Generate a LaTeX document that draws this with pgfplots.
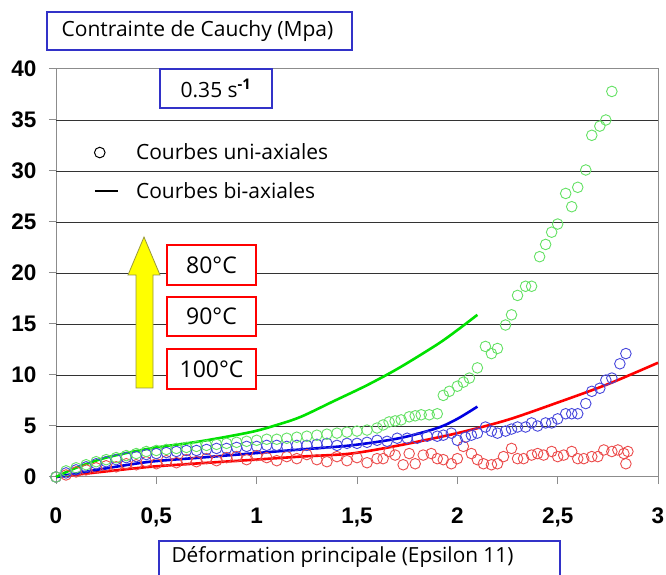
\documentclass[border=0pt]{standalone}
\usepackage{pgfplots}
\pgfplotsset{compat=1.18}
\usepackage{fontspec}
\setmainfont{Open Sans}
\newfontfamily\tickfont{Liberation Sans}
\definecolor{gline}{RGB}{0,225,0}
\definecolor{gcirc}{RGB}{100,225,100}
\definecolor{bline}{RGB}{0,0,225}
\definecolor{bcirc}{RGB}{70,70,220}
\definecolor{rline}{RGB}{255,0,0}
\definecolor{rcirc}{RGB}{235,75,75}
\definecolor{boxblue}{RGB}{50,50,200}
\definecolor{arrowyellow}{RGB}{255,255,0}
\definecolor{arrowedge}{RGB}{150,150,60}
\begin{document}
\begin{tikzpicture}[x=1pt,y=1pt]
\path[use as bounding box] (-56,-98) rectangle (610,477);
\begin{axis}[
  at={(0,0)}, anchor=south west,
  scale only axis, width=602pt, height=408pt,
  xmin=0, xmax=3, ymin=0, ymax=40,
  xtick={0,0.5,1,1.5,2,2.5,3},
  ytick={0,5,10,15,20,25,30,35,40},
  axis line style={draw=black!45, line width=1pt},
  tick style={black!45, line width=1pt},
  tick align=outside, xtick pos=bottom, ytick pos=left,
  major tick length=7pt,
  /pgf/number format/.cd, use comma, 1000 sep={}, assume math mode=true, /pgfplots/.cd,
  ticklabel style={font=\tickfont\bfseries\fontsize{22.5}{26}\selectfont},
  xticklabel style={yshift=-20pt},
  yticklabel style={xshift=-9pt},
  extra y ticks={5,10,15,20,25,30,35},
  extra y tick labels={},
  extra y tick style={grid=major, major grid style={black!80, line width=0.9pt}, major tick length=0pt},
  legend cell align=left,
  legend style={draw=none, fill=none, at={(0.062,0.822)}, anchor=north west,
    font=\fontsize{21}{25}\selectfont, row sep=17pt, inner sep=0pt,
    /tikz/every odd column/.append style={column sep=15pt}},
  clip=false,
]
\addlegendimage{black, line width=1pt, legend image code/.code={\draw[black, line width=1pt] (0pt,0pt) circle (5.3pt);}}
\addlegendentry{Courbes uni-axiales}
\addlegendimage{black, line width=2.5pt, legend image code/.code={\draw[black, line width=2.5pt] (-5pt,0pt) -- (18pt,0pt);}}
\addlegendentry{Courbes bi-axiales}

% 100 C uniaxial (red circles)
\addplot[only marks, mark=o, mark size=5.3pt, rcirc, line width=0.9pt] coordinates {
(0,0) (0.05,0.2) (0.1,0.5) (0.15,0.7) (0.2,0.9) (0.25,1.1) (0.3,1.0) (0.35,1.3) (0.4,1.2)
(0.45,1.5) (0.5,1.3) (0.55,1.6) (0.6,1.4) (0.65,1.7) (0.7,1.5) (0.75,1.8) (0.8,1.6)
(0.85,1.9) (0.9,2.0) (0.95,1.7) (1.0,2.1) (1.05,1.9) (1.1,1.6) (1.15,2.0) (1.2,1.8)
(1.25,2.2) (1.3,1.7) (1.35,1.5) (1.4,2.0) (1.45,1.6) (1.5,1.9) (1.55,1.4) (1.6,1.8)
(1.63,1.8) (1.66,2.5) (1.69,2.15) (1.73,1.2) (1.76,2.3) (1.79,1.3) (1.83,2.15) (1.87,2.3)
(1.90,1.8) (1.93,1.7) (1.97,1.3) (2.00,1.8) (2.03,3.0) (2.07,2.3) (2.10,1.7) (2.13,1.3)
(2.17,1.2) (2.20,1.3) (2.23,2.0) (2.27,2.8) (2.30,1.8) (2.33,1.8) (2.37,2.15) (2.40,2.3)
(2.43,2.15) (2.47,2.5) (2.50,2.0) (2.53,2.15) (2.57,2.5) (2.60,1.8) (2.63,1.8) (2.67,2.0)
(2.70,2.0) (2.73,2.65) (2.77,2.5) (2.80,2.65) (2.83,2.3) (2.85,2.5) (2.84,1.3)
};
% 90 C uniaxial (blue circles)
\addplot[only marks, mark=o, mark size=5.3pt, bcirc, line width=0.9pt] coordinates {
(0,0) (0.05,0.4) (0.1,0.7) (0.15,1.0) (0.2,1.3) (0.25,1.5) (0.3,1.7) (0.35,1.9) (0.4,2.0)
(0.45,2.2) (0.5,2.3) (0.55,2.4) (0.6,2.5) (0.65,2.6) (0.7,2.6) (0.75,2.7) (0.8,2.8)
(0.85,2.8) (0.9,2.9) (0.95,3.0) (1.0,3.0) (1.05,3.1) (1.1,3.1) (1.15,3.0) (1.2,3.1)
(1.25,3.1) (1.3,3.2) (1.35,3.3) (1.4,3.1) (1.45,3.3) (1.5,3.3) (1.55,3.4) (1.6,3.6)
(1.65,3.5) (1.7,3.8) (1.75,3.8) (1.8,3.8) (1.85,4.0) (1.9,4.0) (1.93,4.1) (1.97,4.3)
(2.00,3.6) (2.04,3.9) (2.07,4.1) (2.10,4.3) (2.14,4.9) (2.17,4.5) (2.20,4.3) (2.24,4.5)
(2.27,4.7) (2.30,4.9) (2.34,4.9) (2.37,5.3) (2.40,5.0) (2.44,5.3) (2.47,5.3) (2.50,5.7)
(2.54,6.2) (2.57,6.2) (2.60,6.2) (2.64,7.2) (2.67,8.4) (2.71,8.7) (2.74,9.5) (2.77,9.7)
(2.81,11.1) (2.84,12.1)
};
% 80 C uniaxial (green circles)
\addplot[only marks, mark=o, mark size=5.3pt, gcirc, line width=0.9pt] coordinates {
(0,0) (0.05,0.6) (0.1,0.9) (0.15,1.2) (0.2,1.5) (0.25,1.7) (0.3,1.9) (0.35,2.1) (0.4,2.3)
(0.45,2.5) (0.5,2.6) (0.55,2.7) (0.6,2.8) (0.65,2.9) (0.7,3.0) (0.75,3.1) (0.8,3.2)
(0.85,3.3) (0.9,3.4) (0.95,3.5) (1.0,3.6) (1.05,3.7) (1.1,3.7) (1.15,3.8) (1.2,3.9)
(1.25,4.0) (1.3,4.1) (1.35,4.2) (1.4,4.3) (1.45,4.4) (1.5,4.5) (1.55,4.6) (1.6,4.8)
(1.63,5.1) (1.66,5.4) (1.69,5.5) (1.72,5.6) (1.76,5.9) (1.79,6.0) (1.82,6.1) (1.86,6.1)
(1.90,6.2) (1.93,8.0) (1.96,8.4) (2.00,8.9) (2.03,9.3) (2.06,9.7) (2.10,10.7) (2.14,12.8)
(2.17,12.1) (2.20,12.6) (2.24,14.9) (2.27,15.9) (2.30,17.8) (2.34,18.7) (2.37,18.7)
(2.41,21.6) (2.44,22.8) (2.47,24.0) (2.50,24.8) (2.54,27.8) (2.57,26.5) (2.60,28.4)
(2.64,30.1) (2.67,33.5) (2.71,34.4) (2.74,35.0) (2.77,37.8)
};
% biaxial lines
\addplot[rline, line width=2.6pt, smooth] coordinates {
(0,0) (0.25,0.55) (0.47,1.0) (0.72,1.35) (0.97,1.67) (1.22,2.0) (1.47,2.3) (1.71,3.1)
(2.0,4.3) (2.25,5.6) (2.5,7.3) (2.75,9.1) (3.0,11.2)
};
\addplot[bline, line width=2.6pt, smooth] coordinates {
(0,0) (0.25,0.85) (0.47,1.5) (0.72,1.9) (0.97,2.3) (1.22,2.7) (1.47,3.1) (1.71,3.8)
(1.9,4.8) (2.0,5.7) (2.1,6.9)
};
\addplot[gline, line width=2.6pt, smooth] coordinates {
(0,0) (0.1,0.9) (0.25,1.9) (0.47,2.8) (0.72,3.5) (0.97,4.4) (1.10,5.1) (1.22,5.9)
(1.38,7.4) (1.55,9.0) (1.71,10.7) (1.9,13.0) (2.0,14.4) (2.1,15.9)
};
\end{axis}
% title box
\draw[boxblue, line width=1.8pt, fill=white] (-9,427) rectangle (296,465);
\node[font=\fontsize{21}{25}\selectfont] at (141.5,446) {Contrainte de Cauchy (Mpa)};
% rate box
\draw[boxblue, line width=2.2pt, fill=white] (104,369) rectangle (216,408);
\node[font=\fontsize{21}{25}\selectfont] at (160,388.5) {0.35 s\textsuperscript{\textbf{-1}}};
% yellow arrow
\draw[arrowedge, line width=0.8pt, fill=arrowyellow]
  (80,89) -- (97,89) -- (97,202) -- (104,202) -- (88,240) -- (72,202) -- (80,202) -- cycle;
% temperature boxes
\draw[rline, line width=1.8pt, fill=white] (111,192) rectangle (200,232);
\node[font=\fontsize{23}{27}\selectfont] at (155.5,212) {80°C};
\draw[rline, line width=1.8pt, fill=white] (111,141) rectangle (200,180);
\node[font=\fontsize{23}{27}\selectfont] at (155.5,160.5) {90°C};
\draw[rline, line width=1.8pt, fill=white] (111,88) rectangle (200,128);
\node[font=\fontsize{23}{27}\selectfont] at (155.5,108) {100°C};
% x label box
\draw[boxblue, line width=1.8pt, fill=white] (103,-104) rectangle (504,-64);
\node[font=\fontsize{20.8}{25}\selectfont] at (286.5,-80) {Déformation principale (Epsilon 11)};
\end{tikzpicture}
\end{document}
